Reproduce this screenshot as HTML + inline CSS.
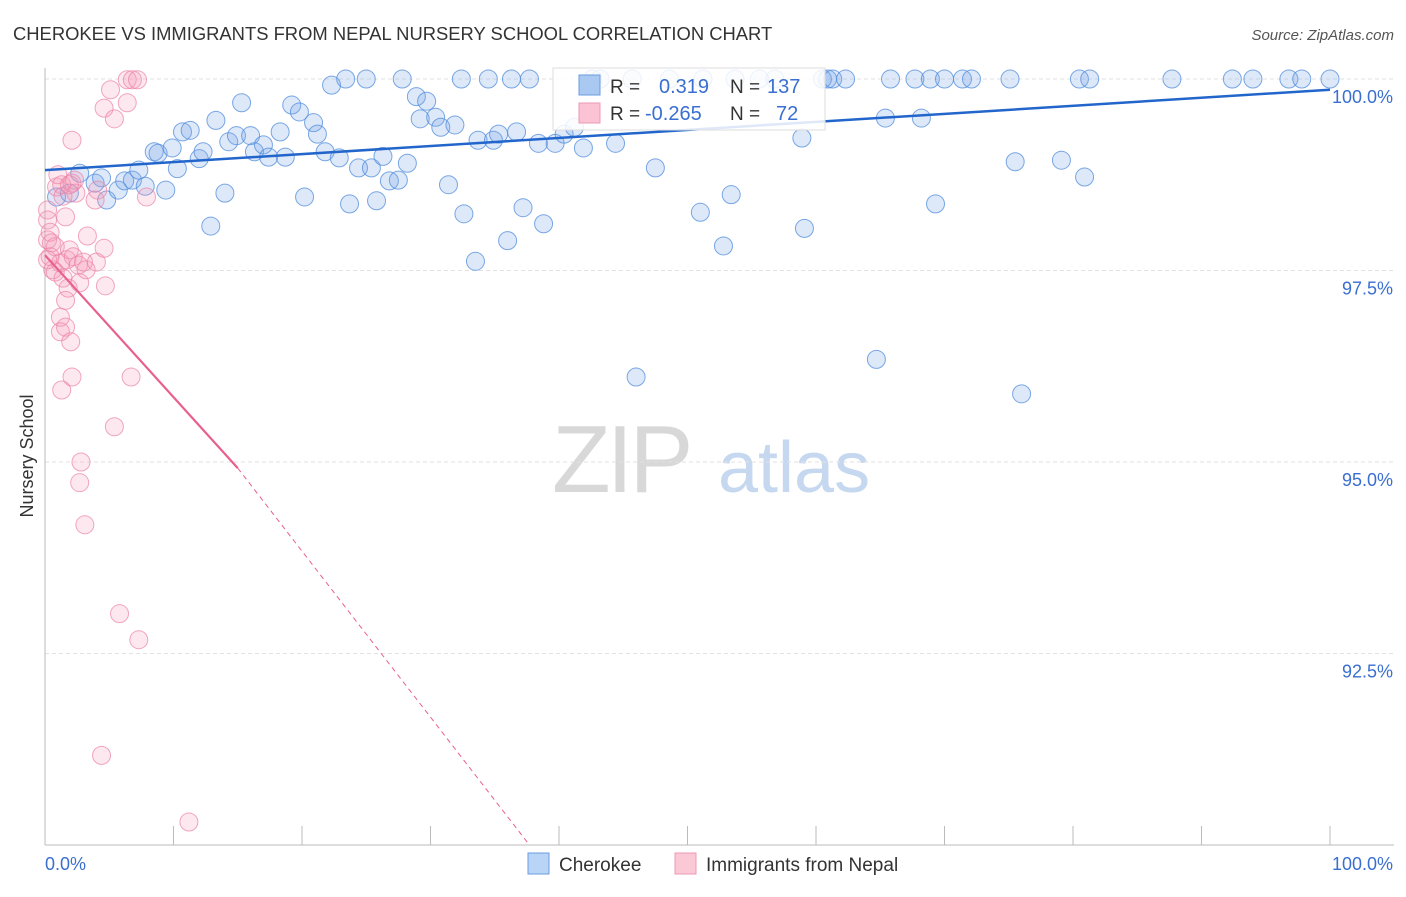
<!DOCTYPE html>
<html><head><meta charset="utf-8"><style>
body{margin:0;background:#fff;font-family:"Liberation Sans",sans-serif}
svg text{font-family:"Liberation Sans",sans-serif}
</style></head><body>
<svg id="chart" width="1406" height="892" xmlns="http://www.w3.org/2000/svg">
<text x="13" y="40" font-size="18.4" fill="#333">CHEROKEE VS IMMIGRANTS FROM NEPAL NURSERY SCHOOL CORRELATION CHART</text>
<text x="1394" y="40" font-size="15" fill="#555" text-anchor="end" font-style="italic">Source: ZipAtlas.com</text>
<g>
<text x="552" y="492" font-size="96" fill="#d8d8d8" font-family="Liberation Serif" letter-spacing="-4">ZIP</text>
<text x="718" y="492" font-size="72" fill="#c5d8f0">atlas</text>
</g>
<g id="grid"></g>
<g id="axes"></g>
<g id="pts"></g>
<g id="lines"></g>
<text transform="translate(33,456) rotate(-90)" font-size="18" fill="#333" text-anchor="middle">Nursery School</text>
<g>
<rect x="553" y="68" width="272" height="62" fill="#fff" fill-opacity="0.85" stroke="#ddd"/>
<rect x="579" y="75" width="21" height="20" fill="#a9c8f2" stroke="#6b9de0"/>
<rect x="579" y="103" width="21" height="20" fill="#fbc3d3" stroke="#ee9ab4"/>
<text x="610" y="93" font-size="19" fill="#333">R =</text><text x="659" y="93" font-size="20" fill="#3a6fd0">0.319</text>
<text x="730" y="93" font-size="19" fill="#333">N =</text><text x="767" y="93" font-size="20" fill="#3a6fd0">137</text>
<text x="610" y="120" font-size="19" fill="#333">R =</text><text x="645" y="120" font-size="20" fill="#3a6fd0">-0.265</text>
<text x="730" y="120" font-size="19" fill="#333">N =</text><text x="776" y="120" font-size="20" fill="#3a6fd0">72</text>
</g>
<g>
<rect x="528" y="853" width="21" height="21" fill="#b8d4f6" stroke="#6b9de0"/>
<text x="559" y="871" font-size="19" fill="#333">Cherokee</text>
<rect x="675" y="853" width="21" height="21" fill="#fbc8d6" stroke="#ee9ab4"/>
<text x="706" y="871" font-size="19" fill="#333">Immigrants from Nepal</text>
</g>
</svg>
<script>
const yTicks=[100,97.5,95,92.5];
const yTickLabels=["100.0%","97.5%","95.0%","92.5%"];
const xTicks=[0,10,20,30,40,50,60,70,80,90,100];
const xEndLabels=["0.0%","100.0%"];
const blueX=[0.9,1.9,2.7,3.9,4.4,4.8,5.7,6.2,6.8,7.3,7.8,8.5,8.8,9.4,9.9,10.3,10.7,11.3,12.0,12.3,12.9,13.3,14.0,14.3,14.9,15.3,16.0,16.3,17.0,17.4,18.3,18.7,19.2,19.8,20.2,20.9,21.2,21.8,22.3,22.9,23.4,23.7,24.4,25.0,25.4,25.8,26.3,26.8,27.5,27.8,28.2,28.9,29.2,29.7,30.4,30.8,31.4,31.9,32.4,32.6,33.5,33.7,34.5,34.9,35.3,36.0,36.3,36.7,37.2,37.7,38.4,38.8,39.7,40.4,41.2,41.9,42.6,43.2,44.4,45.7,46.0,47.5,48.6,51.0,51.2,52.8,53.4,53.7,55.6,56.8,58.9,59.1,60.5,60.9,61.3,62.3,64.7,65.4,65.8,67.7,68.2,68.9,69.3,70.0,71.4,72.1,75.1,75.5,76.0,79.1,80.5,80.9,81.3,87.7,92.4,94.0,96.8,97.8,100];
const blueY=[98.46,98.51,98.77,98.64,98.71,98.42,98.55,98.67,98.68,98.81,98.60,99.05,99.03,98.55,99.10,98.83,99.31,99.33,98.96,99.05,98.08,99.46,98.51,99.18,99.26,99.69,99.26,99.05,99.14,98.98,99.31,98.98,99.66,99.57,98.46,99.43,99.28,99.05,99.92,98.97,100,98.37,98.84,100,98.84,98.41,98.99,98.67,98.68,100,98.90,99.77,99.48,99.71,99.50,99.37,98.62,99.40,100,98.24,97.62,99.20,100,99.20,99.28,97.89,100,99.31,98.32,100,99.16,98.11,99.16,99.28,99.37,99.10,100,100,99.16,100,96.11,98.84,100,98.26,100,97.82,98.49,100,100,100,99.23,98.05,100,100,100,100,96.34,99.49,100,100,99.49,100,98.37,100,100,100,100,98.92,95.89,98.94,100,98.72,100,100,100,100,100,100,100];
const pinkX=[0.2,0.2,0.4,0.2,0.5,0.8,0.4,0.6,0.8,0.9,1.0,1.3,1.4,1.6,1.2,1.4,1.7,1.9,2.1,2.3,2.4,2.2,2.6,2.7,3.2,3.3,3.0,1.8,1.6,1.2,1.2,1.6,2.0,2.1,1.3,2.8,2.7,3.1,3.9,4.0,4.1,4.6,4.7,5.1,4.6,5.4,6.4,6.4,6.8,7.2,7.9,6.7,5.4,5.8,7.3,4.4,11.2,2.1,1.9,0.2];
const pinkY=[98.29,98.16,98.00,97.90,97.86,97.81,97.68,97.51,97.48,98.59,98.75,98.62,98.47,98.20,97.60,97.40,97.64,97.77,98.64,98.68,98.51,97.68,97.57,97.34,97.51,97.95,97.61,97.27,97.11,96.89,96.70,96.76,96.57,96.11,95.94,95.00,94.73,94.18,98.42,97.61,98.55,97.79,97.30,99.86,99.62,99.48,99.69,99.99,99.99,99.99,98.46,96.11,95.46,93.02,92.68,91.17,90.30,99.20,98.62,97.64];
const blueTrend=[0,98.81,100,99.86];
const pinkTrend=[0,97.70,15,94.92,37.7,90.0];
const NS="http://www.w3.org/2000/svg";
const X=v=>45+v*12.85, Y=v=>79+(100-v)*76.6;
function mk(p,t,a){const e=document.createElementNS(NS,t);for(const k in a)e.setAttribute(k,a[k]);p.appendChild(e);return e;}
const grid=document.getElementById('grid'),axes=document.getElementById('axes'),pts=document.getElementById('pts'),lines=document.getElementById('lines');
yTicks.forEach((t,i)=>{
 const l=mk(grid,'line',{x1:45,x2:1394,y1:Y(t),y2:Y(t),stroke:'#e2e2e2','stroke-dasharray':'4,3'});
 
 
 const tx=mk(axes,'text',{x:1393,y:Y(t)+24,'font-size':18,fill:'#3a6fd0','text-anchor':'end'});tx.textContent=yTickLabels[i];
 
 
});
const ax=mk(axes,'line',{x1:45,x2:1394,y1:845,y2:845,stroke:'#bbb'});


const ay=mk(axes,'line',{x1:45,x2:45,y1:68,y2:845,stroke:'#bbb'});


xTicks.forEach(t=>{const k=mk(axes,'line',{x1:X(t),x2:X(t),y1:826,y2:845,stroke:'#bbb'});
 
 });
const l0=mk(axes,'text',{x:45,y:870,'font-size':18,fill:'#3a6fd0'});l0.textContent=xEndLabels[0];


const l1=mk(axes,'text',{x:1393,y:870,'font-size':18,fill:'#3a6fd0','text-anchor':'end'});l1.textContent=xEndLabels[1];


blueX.forEach((x,i)=>{const c=mk(pts,'circle',{cx:X(x),cy:Y(blueY[i]),r:9,fill:'rgba(120,165,230,0.25)',stroke:'rgba(80,140,220,0.75)','stroke-width':1});
 
 });
pinkX.forEach((x,i)=>{const c=mk(pts,'circle',{cx:X(x),cy:Y(pinkY[i]),r:9,fill:'rgba(245,150,180,0.22)',stroke:'rgba(235,130,165,0.7)','stroke-width':1});
 
 });
const bt=mk(lines,'line',{x1:X(blueTrend[0]),y1:Y(blueTrend[1]),x2:X(blueTrend[2]),y2:Y(blueTrend[3]),stroke:'#2266cc','stroke-width':2.5});


const pt=mk(lines,'line',{x1:X(pinkTrend[0]),y1:Y(pinkTrend[1]),x2:X(pinkTrend[2]),y2:Y(pinkTrend[3]),stroke:'#e8608c','stroke-width':2.2});


const pd=mk(lines,'line',{x1:X(pinkTrend[2]),y1:Y(pinkTrend[3]),x2:X(pinkTrend[4]),y2:Y(pinkTrend[5]),stroke:'#e8608c','stroke-width':1,'stroke-dasharray':'5,4'});


</script>
</body></html>
